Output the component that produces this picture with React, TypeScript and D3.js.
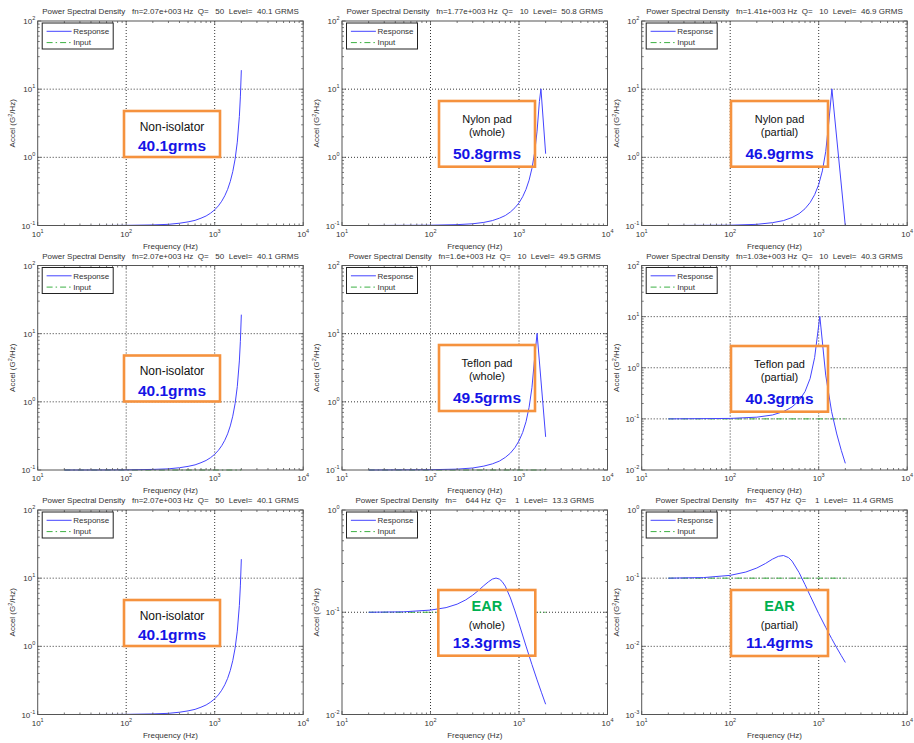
import React from "react";
import * as d3 from "d3";

// Input PSD (G^2/Hz) applied to every configuration
const inputFreq = [20, 2000];
const inputPsd = [0.1, 0.1];

// Response PSD (G^2/Hz) per mounting configuration
const nonIsoFreq = [20, 50, 100, 200, 300, 400, 500, 600, 700, 800, 900, 1000, 1100, 1200, 1300, 1400, 1500, 1600, 1700, 1800, 1900, 1950, 2000];
const nonIsoPsd = [0.1, 0.1001, 0.1005, 0.102, 0.104, 0.108, 0.113, 0.119, 0.128, 0.138, 0.152, 0.17, 0.194, 0.227, 0.273, 0.339, 0.443, 0.616, 0.94, 1.67, 3.98, 7.7, 19];

const nylonWholeFreq = [20, 100, 200, 300, 400, 500, 600, 700, 800, 900, 1000, 1100, 1200, 1300, 1400, 1500, 1600, 1700, 1770, 2000];
const nylonWholePsd = [0.1, 0.101, 0.103, 0.106, 0.111, 0.118, 0.128, 0.14, 0.158, 0.182, 0.215, 0.264, 0.339, 0.462, 0.687, 1.16, 2.42, 6.6, 10.1, 1.13];

const nylonPartialFreq = [20, 100, 200, 300, 400, 500, 600, 700, 800, 900, 1000, 1100, 1200, 1300, 1410, 2000];
const nylonPartialPsd = [0.1, 0.101, 0.104, 0.11, 0.118, 0.131, 0.149, 0.176, 0.217, 0.283, 0.399, 0.632, 1.21, 3.26, 10.1, 0.098];

const teflonWholeFreq = [20, 100, 200, 300, 400, 500, 600, 700, 800, 900, 1000, 1100, 1200, 1300, 1400, 1500, 1600, 2000];
const teflonWholePsd = [0.1, 0.101, 0.103, 0.107, 0.114, 0.123, 0.135, 0.153, 0.177, 0.213, 0.268, 0.355, 0.51, 0.83, 1.61, 4.3, 10.1, 0.306];

const teflonPartialFreq = [20, 100, 200, 300, 400, 500, 600, 700, 800, 900, 1030, 1200, 1400, 1600, 1800, 2000];
const teflonPartialPsd = [0.1, 0.102, 0.108, 0.119, 0.139, 0.171, 0.228, 0.341, 0.616, 1.59, 10.1, 0.718, 0.138, 0.0507, 0.0242, 0.0135];

const earWholeFreq = [20, 50, 100, 150, 200, 250, 300, 350, 400, 450, 500, 550, 600, 644, 700, 800, 900, 1000, 1200, 1400, 1600, 1800, 2000];
const earWholePsd = [0.1, 0.101, 0.105, 0.111, 0.12, 0.132, 0.147, 0.164, 0.182, 0.198, 0.211, 0.216, 0.211, 0.2, 0.18, 0.138, 0.103, 0.0775, 0.0467, 0.0308, 0.0218, 0.0163, 0.0126];

const earPartialFreq = [20, 50, 100, 150, 200, 250, 300, 350, 400, 457, 500, 600, 700, 800, 1000, 1200, 1400, 1600, 1800, 2000];
const earPartialPsd = [0.1, 0.102, 0.11, 0.123, 0.141, 0.164, 0.19, 0.209, 0.215, 0.2, 0.178, 0.121, 0.0805, 0.0555, 0.0302, 0.019, 0.013, 0.0095, 0.0073, 0.0058];

// Panel order: row by row
const panelFreq = [nonIsoFreq, nylonWholeFreq, nylonPartialFreq, nonIsoFreq, teflonWholeFreq, teflonPartialFreq, nonIsoFreq, earWholeFreq, earPartialFreq];
const panelPsd = [nonIsoPsd, nylonWholePsd, nylonPartialPsd, nonIsoPsd, teflonWholePsd, teflonPartialPsd, nonIsoPsd, earWholePsd, earPartialPsd];

const panelTitles = [
  "Power Spectral Density   fn=2.07e+003 Hz  Q=   50  Level=  40.1 GRMS",
  "Power Spectral Density   fn=1.77e+003 Hz  Q=   10  Level=  50.8 GRMS",
  "Power Spectral Density   fn=1.41e+003 Hz  Q=   10  Level=  46.9 GRMS",
  "Power Spectral Density   fn=2.07e+003 Hz  Q=   50  Level=  40.1 GRMS",
  "Power Spectral Density   fn=1.6e+003 Hz  Q=   10  Level=  49.5 GRMS",
  "Power Spectral Density   fn=1.03e+003 Hz  Q=   10  Level=  40.3 GRMS",
  "Power Spectral Density   fn=2.07e+003 Hz  Q=   50  Level=  40.1 GRMS",
  "Power Spectral Density   fn=    644 Hz  Q=    1  Level=  13.3 GRMS",
  "Power Spectral Density   fn=    457 Hz  Q=    1  Level=  11.4 GRMS",
];

// Y-axis decade limits (log10) per panel
const yDecadeMin = [-1, -1, -1, -1, -1, -2, -1, -2, -3];
const yDecadeMax = [2, 2, 2, 2, 2, 2, 2, 0, 0];

// Callout text per panel
const noteTitles = ["Non-isolator", "Nylon pad", "Nylon pad", "Non-isolator", "Teflon pad", "Teflon pad", "Non-isolator", "EAR", "EAR"];
const noteSubtitles = ["", "(whole)", "(partial)", "", "(whole)", "(partial)", "", "(whole)", "(partial)"];
const noteGrms = ["40.1grms", "50.8grms", "46.9grms", "40.1grms", "49.5grms", "40.3grms", "40.1grms", "13.3grms", "11.4grms"];

// Layout
const W = 914;
const H = 743;
const colLeft = [37.7, 342, 641.7];
const rowTop = [21, 265.5, 510];
const PW = 265.5;
const PH = 204.5;
// callout boxes relative to each plot area: [dx, dy, w, h]
const noteBoxes = [
  [86.3, 90, 96, 46],
  [97, 80, 96, 65.7],
  [89.3, 80, 97, 65.7],
  [86.3, 90, 96, 46],
  [97, 79.5, 96, 66],
  [89.3, 80.5, 97, 65.7],
  [86.3, 90, 96, 46],
  [96.3, 80, 97, 65.7],
  [89.3, 80, 97, 66],
];

const FONT = "'Liberation Sans', Arial, Helvetica, sans-serif";
const AXIS = "#555";
const TXT = "#333";
const BLUE = "#4444ff";
const GREEN = "#3cb043";
const ORANGE = "#f5923e";

const isMajor = (v: number) => Math.abs(Math.log10(v) - Math.round(Math.log10(v))) < 1e-6;

function Pow10({ x, y, exp, anchor }: { x: number; y: number; exp: number; anchor: string }) {
  return (
    <text x={x} y={y} fontSize={8} fill={TXT} textAnchor={anchor} fontFamily={FONT}>
      10
      <tspan dy={-4} fontSize={5.5}>{String(exp)}</tspan>
    </text>
  );
}

function Panel({ i }: { i: number }) {
  const left = colLeft[i % 3];
  const top = rowTop[Math.floor(i / 3)];
  const x = d3.scaleLog().domain([10, 1e4]).range([0, PW]);
  const y = d3.scaleLog().domain([Math.pow(10, yDecadeMin[i]), Math.pow(10, yDecadeMax[i])]).range([PH, 0]);
  const xt = x.ticks();
  const yt = y.ticks();
  const xMajor = xt.filter(isMajor);
  const yMajor = yt.filter(isMajor);
  const line = d3
    .line<[number, number]>()
    .x((d) => x(d[0]))
    .y((d) => y(d[1]));
  const resp = line(panelFreq[i].map((f, k) => [f, panelPsd[i][k]] as [number, number])) || "";
  const inp = line(inputFreq.map((f, k) => [f, inputPsd[k]] as [number, number])) || "";
  const [bx, by, bw, bh] = noteBoxes[i];
  const cx = bx + bw / 2;
  const isEar = noteTitles[i] === "EAR";
  const threeLine = noteSubtitles[i] !== "";
  const clipId = `plot-clip-${i}`;

  return (
    <g transform={`translate(${left},${top})`} fontFamily={FONT}>
      <defs>
        <clipPath id={clipId}>
          <rect x={0} y={-1} width={PW} height={PH + 2} />
        </clipPath>
      </defs>
      <rect x={0} y={0} width={PW} height={PH} fill="#fff" />
      {/* major grid */}
      {xMajor
        .filter((t) => x(t) > 1 && x(t) < PW - 1)
        .map((t, k) => (
          <line key={`gx${k}`} x1={x(t)} x2={x(t)} y1={0} y2={PH} stroke="#000" strokeWidth={0.8} strokeDasharray="1,2" />
        ))}
      {yMajor
        .filter((t) => y(t) > 1 && y(t) < PH - 1)
        .map((t, k) => (
          <line key={`gy${k}`} x1={0} x2={PW} y1={y(t)} y2={y(t)} stroke="#000" strokeWidth={0.8} strokeDasharray="1,2" />
        ))}
      <g clipPath={`url(#${clipId})`}>
        <path d={inp} fill="none" stroke={GREEN} strokeWidth={1} strokeDasharray="6,3,1.5,3" />
      </g>
      {/* callout box */}
      <rect x={bx} y={by} width={bw} height={bh} fill="#fff" />
      <g clipPath={`url(#${clipId})`}>
        <path d={resp} fill="none" stroke={BLUE} strokeWidth={1} />
      </g>
      <rect x={bx} y={by} width={bw} height={bh} fill="none" stroke={ORANGE} strokeWidth={2.6} />
      {isEar ? (
        <>
          <text x={cx} y={by + 21} textAnchor="middle" fontSize={14.5} fontWeight="bold" fill="#00b050">{noteTitles[i]}</text>
          <text x={cx} y={by + 38.9} textAnchor="middle" fontSize={11} fill="#111">{noteSubtitles[i]}</text>
        </>
      ) : threeLine ? (
        <>
          <text x={cx} y={by + 21.9} textAnchor="middle" fontSize={11} fill="#111">{noteTitles[i]}</text>
          <text x={cx} y={by + 34.6} textAnchor="middle" fontSize={11} fill="#111">{noteSubtitles[i]}</text>
        </>
      ) : (
        <text x={cx} y={by + 19.6} textAnchor="middle" fontSize={12} fill="#111">{noteTitles[i]}</text>
      )}
      <text
        x={cx}
        y={by + (threeLine ? 58.4 : 40.2)}
        textAnchor="middle"
        fontSize={15.5}
        fontWeight="bold"
        fill="#1414e6"
      >
        {noteGrms[i]}
      </text>
      {/* ticks on all four sides */}
      {xt.map((t, k) => {
        const len = isMajor(t) ? 3.5 : 2;
        const px = x(t);
        return (
          <g key={`tx${k}`}>
            <line x1={px} x2={px} y1={PH} y2={PH - len} stroke={AXIS} strokeWidth={0.8} />
            <line x1={px} x2={px} y1={0} y2={len} stroke={AXIS} strokeWidth={0.8} />
          </g>
        );
      })}
      {yt.map((t, k) => {
        const len = isMajor(t) ? 3.5 : 2;
        const py = y(t);
        return (
          <g key={`ty${k}`}>
            <line x1={0} x2={len} y1={py} y2={py} stroke={AXIS} strokeWidth={0.8} />
            <line x1={PW} x2={PW - len} y1={py} y2={py} stroke={AXIS} strokeWidth={0.8} />
          </g>
        );
      })}
      <rect x={0} y={0} width={PW} height={PH} fill="none" stroke={AXIS} strokeWidth={1} />
      {/* legend */}
      <g transform="translate(4.5,2)">
        <rect x={0} y={0} width={71} height={26} fill="#fff" stroke="#222" strokeWidth={1} />
        <line x1={4.4} x2={29.4} y1={8.3} y2={8.3} stroke={BLUE} strokeWidth={1} />
        <text x={31} y={11.1} fontSize={8} fill={TXT}>Response</text>
        <line x1={4.4} x2={29.4} y1={19.6} y2={19.6} stroke={GREEN} strokeWidth={1} strokeDasharray="6,3,1.5,3" />
        <text x={31} y={22.4} fontSize={8} fill={TXT}>Input</text>
      </g>
      {/* tick labels */}
      {xMajor.map((t, k) => (
        <Pow10 key={`lx${k}`} x={x(t)} y={PH + 11} exp={Math.round(Math.log10(t))} anchor="middle" />
      ))}
      {yMajor.map((t, k) => (
        <Pow10 key={`ly${k}`} x={-2.5} y={y(t) + 3} exp={Math.round(Math.log10(t))} anchor="end" />
      ))}
      {/* titles */}
      <text x={PW / 2} y={-7} textAnchor="middle" fontSize={8} fill={TXT} style={{ whiteSpace: "pre" }}>
        {panelTitles[i]}
      </text>
      <text x={PW / 2} y={PH + 23} textAnchor="middle" fontSize={8} fill={TXT}>Frequency (Hz)</text>
      <text
        transform={`translate(-23,${PH / 2}) rotate(-90)`}
        textAnchor="middle"
        fontSize={8}
        fill={TXT}
      >
        Accel (G
        <tspan dy={-3} fontSize={5.5}>2</tspan>
        <tspan dy={3}>/Hz)</tspan>
      </text>
    </g>
  );
}

export default function App() {
  return (
    <svg
      width={W}
      height={H}
      viewBox={`0 0 ${W} ${H}`}
      style={{ position: "absolute", left: 0, top: 0, background: "#fff" }}
    >
      <rect x={0} y={0} width={W} height={H} fill="#fff" />
      {panelTitles.map((_, i) => (
        <Panel key={i} i={i} />
      ))}
    </svg>
  );
}
